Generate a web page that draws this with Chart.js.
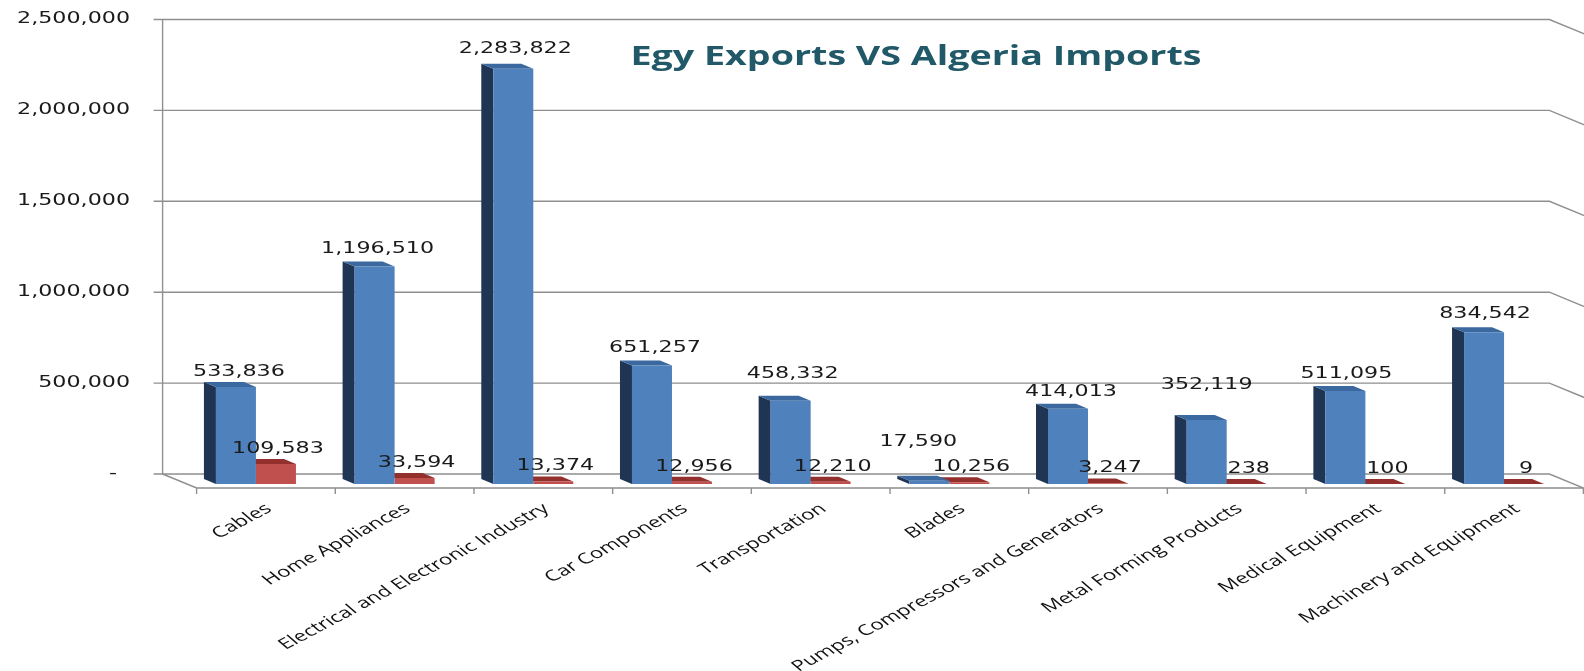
<!DOCTYPE html>
<html>
<head>
<meta charset="utf-8">
<title>Egy Exports VS Algeria Imports</title>
<script src="https://cdn.jsdelivr.net/npm/chart.js@4.4.1/dist/chart.umd.min.js"></script>
<style>
    html, body { margin: 0; padding: 0; background: #fff; }
    canvas { display: block; }
</style>
</head>
<body>
<canvas id="exportsChart" width="1584" height="671"></canvas>
<script>
const categories = [
    'Cables',
    'Home Appliances',
    'Electrical and Electronic Industry',
    'Car Components',
    'Transportation',
    'Blades',
    'Pumps, Compressors and Generators',
    'Metal Forming Products',
    'Medical Equipment',
    'Machinery and Equipment'
];
const egyExports = [533836, 1196510, 2283822, 651257, 458332, 17590, 414013, 352119, 511095, 834542];
const algeriaImports = [109583, 33594, 13374, 12956, 12210, 10256, 3247, 238, 100, 9];
const yTickStep = 500000;
const yMax = 2500000;
const chartTitle = 'Egy Exports VS Algeria Imports';

// label nudges (style only)
const blueLabelLift = [15, 17, 20, 17, 27, 39, 17, 35, 17, 18];
const blueLabelShift = [3, 3, 2, 3, 2, -11, 3, 0, 1, 1];

const STRETCH = 1.48;          // the picture is stretched sideways
const BACK = { dx: -24, dy: -10 };   // bar plane -> back wall
const FRONT = { dx: 10, dy: 4 };     // bar plane -> front floor edge
const DEPTH = { dx: -12, dy: -5 };   // bar thickness
const GRID = '#8f8f8f';

function fmt(v) {
    return v === 0 ? '-' : v.toLocaleString('en-US');
}

function stretchedText(ctx, text, x, y, align) {
    ctx.save();
    ctx.translate(x, y);
    ctx.scale(STRETCH, 1);
    ctx.textAlign = align;
    ctx.fillText(text, 0, 0);
    ctx.restore();
}

function poly(ctx, pts, color) {
    ctx.beginPath();
    ctx.moveTo(pts[0][0], pts[0][1]);
    for (let i = 1; i < pts.length; i++) ctx.lineTo(pts[i][0], pts[i][1]);
    ctx.closePath();
    ctx.fillStyle = color;
    ctx.fill();
}

const wallPlugin = {
    id: 'wall',
    beforeDatasetsDraw(chart) {
        const ctx = chart.ctx;
        const area = chart.chartArea;
        const y = chart.scales.y;
        const x = chart.scales.x;
        const backLeft = area.left + BACK.dx;
        const backRight = area.right + BACK.dx;
        const depthX = FRONT.dx - BACK.dx;
        const depthY = FRONT.dy - BACK.dy;

        ctx.save();
        ctx.strokeStyle = GRID;
        ctx.lineWidth = 1.4;
        ctx.font = '15px "DejaVu Sans"';
        ctx.fillStyle = '#1a1a1a';
        ctx.textBaseline = 'middle';

        y.ticks.forEach(t => {
            const py = y.getPixelForValue(t.value) + BACK.dy;
            ctx.beginPath();
            ctx.moveTo(backLeft - 9, py);
            ctx.lineTo(backRight, py);
            ctx.lineTo(backRight + depthX + 6, py + depthY + 2.5);
            ctx.stroke();
            if (t.value === 0) {
                stretchedText(ctx, fmt(t.value), 113, py, 'center');
            } else {
                stretchedText(ctx, fmt(t.value), 130, py, 'right');
            }
        });

        // back wall axis
        ctx.beginPath();
        ctx.moveTo(backLeft, y.getPixelForValue(yMax) + BACK.dy);
        ctx.lineTo(backLeft, y.getPixelForValue(0) + BACK.dy);
        ctx.stroke();

        // floor
        const fy = y.getPixelForValue(0) + FRONT.dy;
        ctx.beginPath();
        ctx.moveTo(backLeft, y.getPixelForValue(0) + BACK.dy);
        ctx.lineTo(area.left + FRONT.dx, fy);
        ctx.lineTo(area.right + FRONT.dx, fy);
        ctx.stroke();

        const step = (area.right - area.left) / categories.length;
        for (let i = 0; i <= categories.length; i++) {
            const px = area.left + FRONT.dx + i * step;
            ctx.beginPath();
            ctx.moveTo(px, fy);
            ctx.lineTo(px, fy + 6);
            ctx.stroke();
        }

        // category labels, rotated then stretched like the picture
        ctx.font = '15px "Open Sans"';
        ctx.fillStyle = '#111';
        categories.forEach((c, i) => {
            const px = x.getPixelForValue(i) + FRONT.dx + 3;
            ctx.save();
            ctx.translate(px, fy + 19);
            ctx.scale(STRETCH, 1);
            ctx.rotate(-38 * Math.PI / 180);
            ctx.textAlign = 'right';
            ctx.textBaseline = 'middle';
            ctx.fillText(c, 0, 0);
            ctx.restore();
        });

        // title
        ctx.font = 'bold 26px "Open Sans"';
        ctx.fillStyle = '#215968';
        const w = ctx.measureText(chartTitle).width;
        ctx.save();
        ctx.translate(916, 58);
        ctx.scale(571 / w, 1);
        ctx.textAlign = 'center';
        ctx.textBaseline = 'middle';
        ctx.fillText(chartTitle, 0, 0);
        ctx.restore();

        // 3D faces behind the front faces
        const faces = [
            { meta: chart.getDatasetMeta(1), side: '#7a2523', top: '#93302e', showSide: false },
            { meta: chart.getDatasetMeta(0), side: '#1f3553', top: '#3b689f', showSide: true }
        ];
        faces.forEach(f => {
            f.meta.data.forEach(bar => {
                const l = bar.x - bar.width / 2;
                const r = bar.x + bar.width / 2;
                const t = bar.y;
                const b = bar.base;
                if (f.showSide) {
                    poly(ctx, [[l, t], [l, b], [l + DEPTH.dx, b + DEPTH.dy], [l + DEPTH.dx, t + DEPTH.dy]], f.side);
                }
                poly(ctx, [[l, t], [r, t], [r + DEPTH.dx, t + DEPTH.dy], [l + DEPTH.dx, t + DEPTH.dy]], f.top);
            });
        });
        ctx.restore();
    },
    afterDatasetsDraw(chart) {
        const ctx = chart.ctx;
        ctx.save();
        ctx.font = '15px "DejaVu Sans"';
        ctx.fillStyle = '#1a1a1a';
        ctx.textBaseline = 'middle';
        chart.getDatasetMeta(0).data.forEach((bar, i) => {
            stretchedText(ctx, fmt(egyExports[i]), bar.x + blueLabelShift[i], bar.y - blueLabelLift[i], 'center');
        });
        chart.getDatasetMeta(1).data.forEach((bar, i) => {
            stretchedText(ctx, fmt(algeriaImports[i]), bar.x + 2, bar.y - 15, 'center');
        });
        ctx.restore();
    }
};

const ctxExports = document.getElementById('exportsChart').getContext('2d');
new Chart(ctxExports, {
    type: 'bar',
    data: {
        labels: categories,
        datasets: [{
            label: 'Egy Exports',
            data: egyExports,
            backgroundColor: '#4f81bd',
            borderWidth: 0
        }, {
            label: 'Algeria Imports',
            data: algeriaImports,
            backgroundColor: '#c0504d',
            borderWidth: 0
        }]
    },
    options: {
        responsive: false,
        animation: false,
        categoryPercentage: 0.577,
        barPercentage: 1,
        layout: {
            padding: { left: 186.6, right: 10.6, top: 29.5, bottom: 187 }
        },
        scales: {
            x: { display: false },
            y: {
                display: false,
                min: 0,
                max: yMax,
                ticks: { stepSize: yTickStep }
            }
        },
        plugins: {
            legend: { display: false },
            tooltip: { enabled: false }
        }
    },
    plugins: [wallPlugin]
});
</script>
</body>
</html>
